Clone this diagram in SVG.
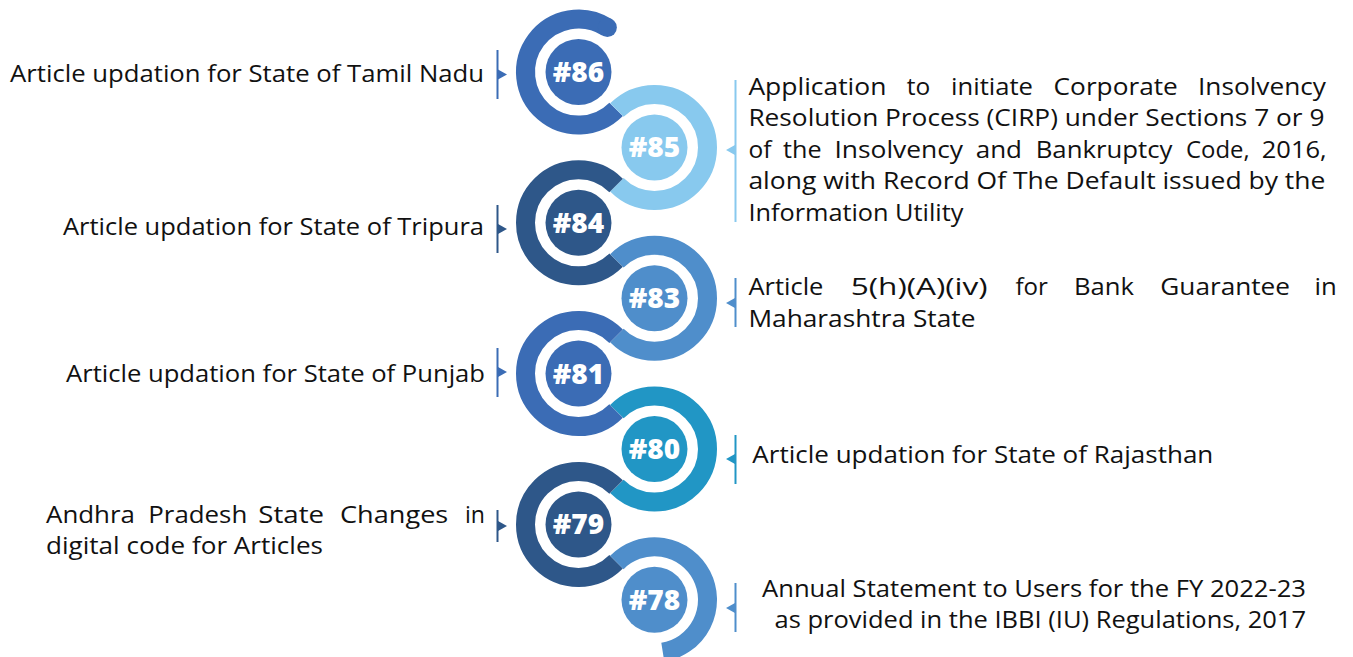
<svg xmlns="http://www.w3.org/2000/svg" xmlns:xlink="http://www.w3.org/1999/xlink" width="1353" height="657" viewBox="0 0 1353 657">
  <defs>
    <style>
      .ring { fill: none; stroke-width: 19; stroke-linecap: butt; }
      .lbl { font-family: "Open Sans", "Noto Sans", "Liberation Sans", sans-serif; font-size: 23px; fill: #111111; }
      .num { font-family: "Open Sans", "Noto Sans", "Liberation Sans", sans-serif; font-weight: 800; font-size: 28px; fill: #ffffff; text-anchor: middle; }
      .stem { stroke-width: 2; }
      .c-mid { fill: #3b6cb5; stroke: #3b6cb5; }
      .c-light { fill: #88c9ee; stroke: #88c9ee; }
      .c-dark { fill: #2e5789; stroke: #2e5789; }
      .c-sky { fill: #4f8ecb; stroke: #4f8ecb; }
      .c-teal { fill: #2196c5; stroke: #2196c5; }
      .ring.c-mid, .ring.c-light, .ring.c-dark, .ring.c-sky, .ring.c-teal { fill: none; }
      .num-bg { stroke: none; }
    </style>
    <!-- callout pointers: right-pointing for the left column, left-pointing for the right column -->
    <path id="tri-r" d="M0,-5 L9,0 L0,5 Z"/>
    <path id="tri-l" d="M0,-5 L-9,0 L0,5 Z"/>
  </defs>

  <rect width="1353" height="657" fill="#ffffff"/>

  <!-- callout brackets between labels and badges -->
  <g id="connectors">
    <line class="stem c-mid" x1="497.5" y1="50" x2="497.5" y2="99"/>
    <use href="#tri-r" xlink:href="#tri-r" x="498" y="74.5" fill="#3b6cb5"/>
    <line class="stem c-dark" x1="497.5" y1="205" x2="497.5" y2="253"/>
    <use href="#tri-r" xlink:href="#tri-r" x="498" y="229" fill="#2e5789"/>
    <line class="stem c-mid" x1="497.5" y1="348" x2="497.5" y2="397"/>
    <use href="#tri-r" xlink:href="#tri-r" x="498" y="372" fill="#3b6cb5"/>
    <line class="stem c-dark" x1="497.5" y1="510" x2="497.5" y2="542"/>
    <use href="#tri-r" xlink:href="#tri-r" x="498" y="526" fill="#2e5789"/>

    <line class="stem c-light" x1="735.5" y1="80" x2="735.5" y2="222"/>
    <use href="#tri-l" xlink:href="#tri-l" x="735" y="150" fill="#88c9ee"/>
    <line class="stem c-sky" x1="735.5" y1="278" x2="735.5" y2="327"/>
    <use href="#tri-l" xlink:href="#tri-l" x="735" y="303" fill="#4f8ecb"/>
    <line class="stem c-teal" x1="735.5" y1="435" x2="735.5" y2="484"/>
    <use href="#tri-l" xlink:href="#tri-l" x="735" y="459" fill="#2196c5"/>
    <line class="stem c-sky" x1="735.5" y1="583" x2="735.5" y2="632"/>
    <use href="#tri-l" xlink:href="#tri-l" x="735" y="608" fill="#4f8ecb"/>
  </g>

  <!-- #86 -->
  <g id="node-86">
    <path class="ring c-mid" d="M607.37,27.55 A53,53 0 1 0 616.11,109.34"/>
    <circle class="c-mid num-bg" cx="607.37" cy="27.55" r="9.5"/>
    <circle class="c-mid num-bg" cx="578.5" cy="72" r="33"/>
    <text class="num" x="578.5" y="82">#86</text>
    <text class="lbl" x="10" y="81.5" textLength="474" lengthAdjust="spacingAndGlyphs">Article updation for State of Tamil Nadu</text>
  </g>

  <!-- #85 -->
  <g id="node-85">
    <path class="ring c-light" d="M616.89,110.06 A53,53 0 1 1 616.89,184.74"/>
    <circle class="c-light num-bg" cx="654.5" cy="147.4" r="33"/>
    <text class="num" x="654.5" y="157.4">#85</text>
    <!-- justified line 1 -->
    <text class="lbl" x="748.4" y="94.5" textLength="138" lengthAdjust="spacingAndGlyphs">Application</text>
    <text class="lbl" x="906.7" y="94.5" textLength="23.5" lengthAdjust="spacingAndGlyphs">to</text>
    <text class="lbl" x="951" y="94.5" textLength="82" lengthAdjust="spacingAndGlyphs">initiate</text>
    <text class="lbl" x="1053.6" y="94.5" textLength="124.2" lengthAdjust="spacingAndGlyphs">Corporate</text>
    <text class="lbl" x="1198" y="94.5" textLength="128" lengthAdjust="spacingAndGlyphs">Insolvency</text>
    <text class="lbl" x="748.4" y="126" textLength="576" lengthAdjust="spacingAndGlyphs">Resolution Process (CIRP) under Sections 7 or 9</text>
    <!-- justified line 3 -->
    <text class="lbl" x="748.4" y="157.5" textLength="23" lengthAdjust="spacingAndGlyphs">of</text>
    <text class="lbl" x="783" y="157.5" textLength="38.5" lengthAdjust="spacingAndGlyphs">the</text>
    <text class="lbl" x="834.4" y="157.5" textLength="128.7" lengthAdjust="spacingAndGlyphs">Insolvency</text>
    <text class="lbl" x="975.7" y="157.5" textLength="46.3" lengthAdjust="spacingAndGlyphs">and</text>
    <text class="lbl" x="1035.7" y="157.5" textLength="136.8" lengthAdjust="spacingAndGlyphs">Bankruptcy</text>
    <text class="lbl" x="1186" y="157.5" textLength="63.6" lengthAdjust="spacingAndGlyphs">Code,</text>
    <text class="lbl" x="1261.8" y="157.5" textLength="64.9" lengthAdjust="spacingAndGlyphs">2016,</text>
    <text class="lbl" x="748.4" y="189" textLength="577" lengthAdjust="spacingAndGlyphs">along with Record Of The Default issued by the</text>
    <text class="lbl" x="748.4" y="220.5" textLength="215" lengthAdjust="spacingAndGlyphs">Information Utility</text>
  </g>

  <!-- #84 -->
  <g id="node-84">
    <path class="ring c-dark" d="M616.11,185.46 A53,53 0 1 0 616.11,260.14"/>
    <circle class="c-dark num-bg" cx="578.5" cy="222.8" r="33"/>
    <text class="num" x="578.5" y="232.8">#84</text>
    <text class="lbl" x="63" y="235" textLength="421" lengthAdjust="spacingAndGlyphs">Article updation for State of Tripura</text>
  </g>

  <!-- #83 -->
  <g id="node-83">
    <path class="ring c-sky" d="M616.89,260.86 A53,53 0 1 1 616.89,335.54"/>
    <circle class="c-sky num-bg" cx="654.5" cy="298.2" r="33"/>
    <text class="num" x="654.5" y="308.2">#83</text>
    <!-- justified line 1 -->
    <text class="lbl" x="748.4" y="295" textLength="75" lengthAdjust="spacingAndGlyphs">Article</text>
    <text class="lbl" x="850.7" y="295" textLength="137" lengthAdjust="spacingAndGlyphs">5(h)(A)(iv)</text>
    <text class="lbl" x="1015.5" y="295" textLength="32.4" lengthAdjust="spacingAndGlyphs">for</text>
    <text class="lbl" x="1073.9" y="295" textLength="60" lengthAdjust="spacingAndGlyphs">Bank</text>
    <text class="lbl" x="1160.3" y="295" textLength="129.7" lengthAdjust="spacingAndGlyphs">Guarantee</text>
    <text class="lbl" x="1314.6" y="295" textLength="22.3" lengthAdjust="spacingAndGlyphs">in</text>
    <text class="lbl" x="748.4" y="326.5" textLength="227" lengthAdjust="spacingAndGlyphs">Maharashtra State</text>
  </g>

  <!-- #81 -->
  <g id="node-81">
    <path class="ring c-mid" d="M616.11,336.26 A53,53 0 1 0 616.11,410.94"/>
    <circle class="c-mid num-bg" cx="578.5" cy="373.6" r="33"/>
    <text class="num" x="578.5" y="383.6">#81</text>
    <text class="lbl" x="66" y="381.5" textLength="419" lengthAdjust="spacingAndGlyphs">Article updation for State of Punjab</text>
  </g>

  <!-- #80 -->
  <g id="node-80">
    <path class="ring c-teal" d="M616.89,411.66 A53,53 0 1 1 616.89,486.34"/>
    <circle class="c-teal num-bg" cx="654.5" cy="449" r="33"/>
    <text class="num" x="654.5" y="459">#80</text>
    <text class="lbl" x="752.3" y="463.3" textLength="461" lengthAdjust="spacingAndGlyphs">Article updation for State of Rajasthan</text>
  </g>

  <!-- #79 -->
  <g id="node-79">
    <path class="ring c-dark" d="M616.11,487.06 A53,53 0 1 0 616.11,561.74"/>
    <circle class="c-dark num-bg" cx="578.5" cy="524.4" r="33"/>
    <text class="num" x="578.5" y="534.4">#79</text>
    <!-- justified line 1 -->
    <text class="lbl" x="46" y="522.5" textLength="89" lengthAdjust="spacingAndGlyphs">Andhra</text>
    <text class="lbl" x="148.3" y="522.5" textLength="99" lengthAdjust="spacingAndGlyphs">Pradesh</text>
    <text class="lbl" x="258.3" y="522.5" textLength="65.7" lengthAdjust="spacingAndGlyphs">State</text>
    <text class="lbl" x="340" y="522.5" textLength="108.3" lengthAdjust="spacingAndGlyphs">Changes</text>
    <text class="lbl" x="465" y="522.5" textLength="20" lengthAdjust="spacingAndGlyphs">in</text>
    <text class="lbl" x="46" y="553.5" textLength="277" lengthAdjust="spacingAndGlyphs">digital code for Articles</text>
  </g>

  <!-- #78 -->
  <g id="node-78">
    <path class="ring c-sky" d="M616.89,562.46 A53,53 0 1 1 662.79,652.15"/>
    <circle class="c-sky num-bg" cx="654.5" cy="599.8" r="33"/>
    <text class="num" x="654.5" y="609.8">#78</text>
    <text class="lbl" x="762" y="596.7" textLength="544" lengthAdjust="spacingAndGlyphs">Annual Statement to Users for the FY 2022-23</text>
    <text class="lbl" x="774.5" y="628.3" textLength="531.5" lengthAdjust="spacingAndGlyphs">as provided in the IBBI (IU) Regulations, 2017</text>
  </g>
</svg>
